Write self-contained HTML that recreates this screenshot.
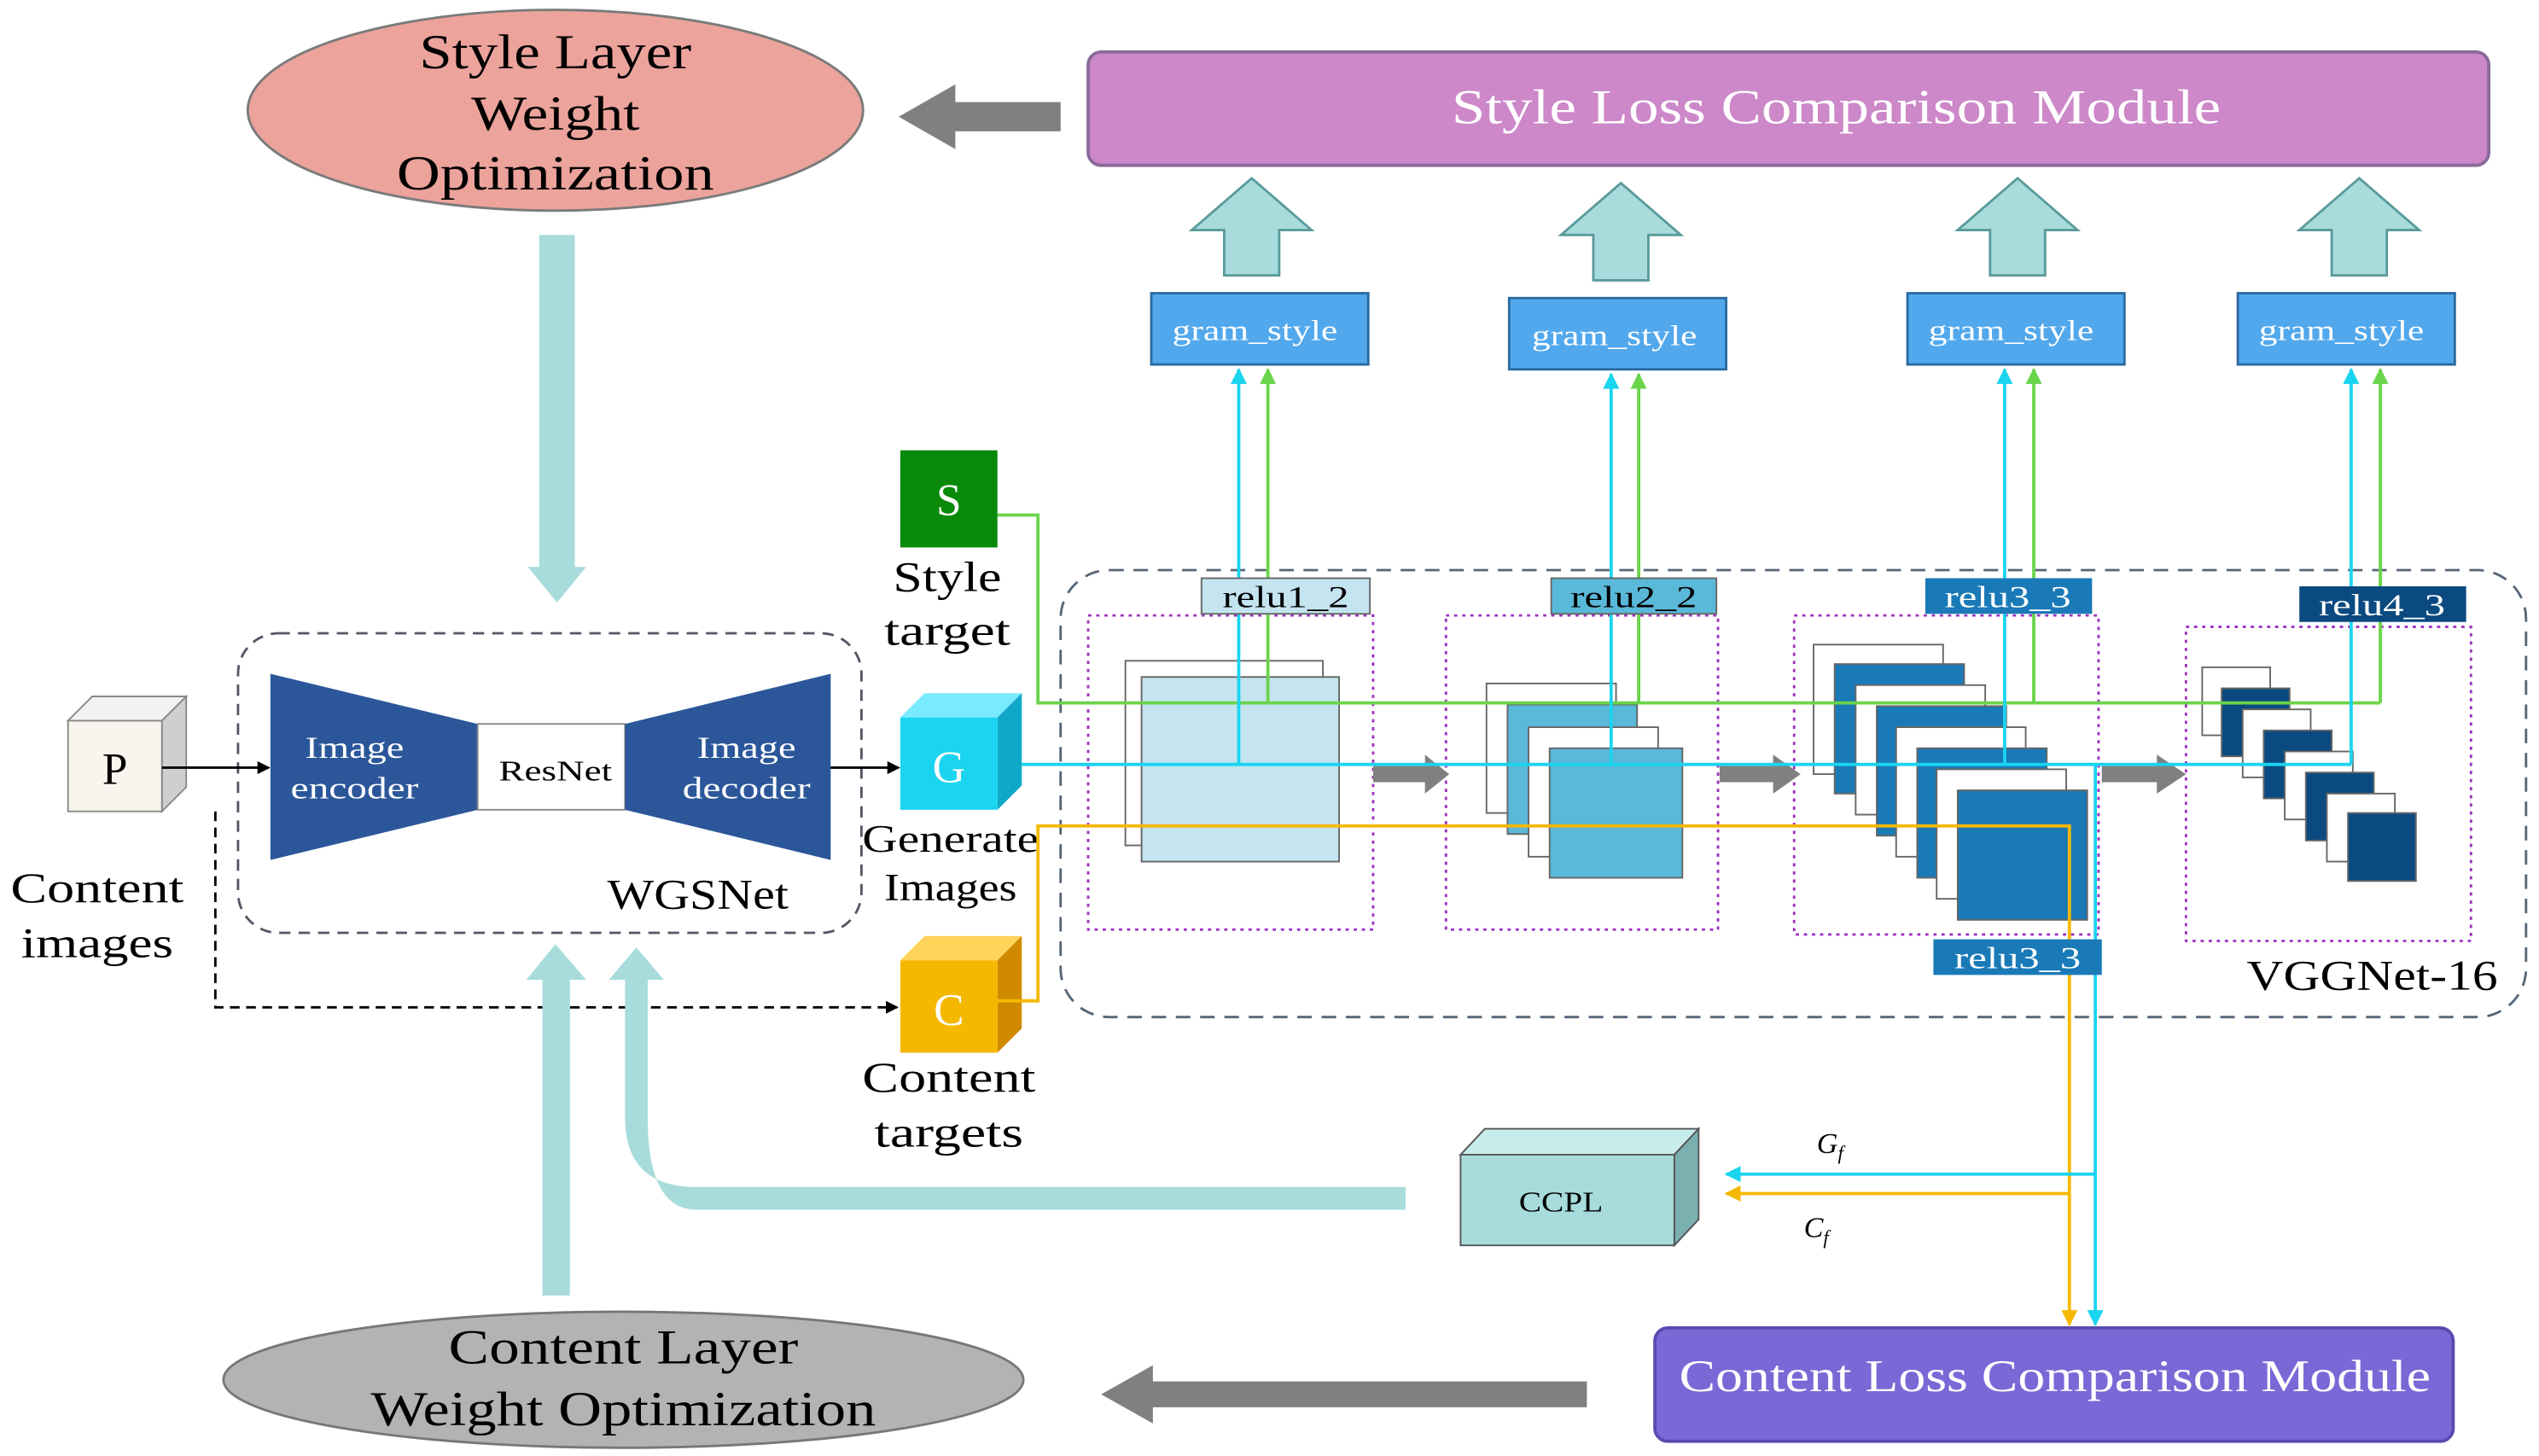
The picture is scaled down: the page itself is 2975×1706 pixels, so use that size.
<!DOCTYPE html>
<html><head><meta charset="utf-8"><style>
html,body{margin:0;padding:0;background:#fff}
svg{display:block}
text{font-family:"Liberation Serif",serif}
</style></head><body>
<svg width="2975" height="1706" viewBox="0 0 1568 899" xmlns="http://www.w3.org/2000/svg">
<defs>
<marker id="ab" markerWidth="8" markerHeight="8" refX="7" refY="4" orient="auto" markerUnits="userSpaceOnUse"><path d="M0,0 L8,4 L0,8 z" fill="#000"/></marker>
<marker id="ac" markerWidth="10" markerHeight="10" refX="9" refY="5" orient="auto" markerUnits="userSpaceOnUse"><path d="M0,0 L10,5 L0,10 z" fill="#1ad4f0"/></marker>
<marker id="ag" markerWidth="10" markerHeight="10" refX="9" refY="5" orient="auto" markerUnits="userSpaceOnUse"><path d="M0,0 L10,5 L0,10 z" fill="#6ad44a"/></marker>
<marker id="ay" markerWidth="10" markerHeight="10" refX="9" refY="5" orient="auto" markerUnits="userSpaceOnUse"><path d="M0,0 L10,5 L0,10 z" fill="#f5b800"/></marker>
</defs>

<ellipse cx="343" cy="68" rx="190" ry="62" fill="#eba39c" stroke="#7a7a7a" stroke-width="1.5"/>
<text x="343" y="42" font-size="30" text-anchor="middle" textLength="168" lengthAdjust="spacingAndGlyphs">Style Layer</text>
<text x="343" y="80" font-size="30" text-anchor="middle" textLength="104" lengthAdjust="spacingAndGlyphs">Weight</text>
<text x="343" y="117" font-size="30" text-anchor="middle" textLength="196" lengthAdjust="spacingAndGlyphs">Optimization</text>

<polygon points="655,63 590,63 590,52 555,72 590,92 590,81 655,81" fill="#808080"/>

<rect x="672" y="32" width="865" height="70" rx="8" fill="#cc88c8" stroke="#8a6a9a" stroke-width="2"/>
<text x="1134" y="76" font-size="30" fill="#fff" text-anchor="middle" textLength="475" lengthAdjust="spacingAndGlyphs">Style Loss Comparison Module</text>

<g fill="#a8dcdc" stroke="#5a9a9a" stroke-width="1.5">
<polygon points="773,110 810,142 790,142 790,170 756,170 756,142 736,142"/>
<polygon points="1001,113 1038,145 1018,145 1018,173 984,173 984,145 964,145"/>
<polygon points="1246,110 1283,142 1263,142 1263,170 1229,170 1229,142 1209,142"/>
<polygon points="1457,110 1494,142 1474,142 1474,170 1440,170 1440,142 1420,142"/>
</g>

<g fill="#52a8ec" stroke="#2a6aa0" stroke-width="1.5">
<rect x="711" y="181" width="134" height="44"/>
<rect x="932" y="184" width="134" height="44"/>
<rect x="1178" y="181" width="134" height="44"/>
<rect x="1382" y="181" width="134" height="44"/>
</g>
<g font-size="18" fill="#fff" text-anchor="middle">
<text x="775" y="210" textLength="102" lengthAdjust="spacingAndGlyphs">gram_style</text>
<text x="997" y="213" textLength="102" lengthAdjust="spacingAndGlyphs">gram_style</text>
<text x="1242" y="210" textLength="102" lengthAdjust="spacingAndGlyphs">gram_style</text>
<text x="1446" y="210" textLength="102" lengthAdjust="spacingAndGlyphs">gram_style</text>
</g>

<polygon points="333,145 355,145 355,350 362,350 344,372 326,350 333,350" fill="#a8dcdc"/>

<rect x="147" y="391" width="385" height="185" rx="25" fill="none" stroke="#556" stroke-width="1.5" stroke-dasharray="7,5"/>
<polygon points="167,416 295,447 295,500 167,531" fill="#2b579a"/>
<rect x="295" y="447" width="91" height="53" fill="#fff" stroke="#888"/>
<polygon points="386,447 513,416 513,531 386,500" fill="#2b579a"/>
<g font-size="19" fill="#fff" text-anchor="middle">
<text x="219" y="468" textLength="61" lengthAdjust="spacingAndGlyphs">Image</text><text x="219" y="493" textLength="79" lengthAdjust="spacingAndGlyphs">encoder</text>
<text x="461" y="468" textLength="61" lengthAdjust="spacingAndGlyphs">Image</text><text x="461" y="493" textLength="79" lengthAdjust="spacingAndGlyphs">decoder</text>
</g>
<text x="343" y="482" font-size="18" text-anchor="middle" textLength="70" lengthAdjust="spacingAndGlyphs">ResNet</text>
<text x="431" y="561" font-size="26" text-anchor="middle" textLength="112" lengthAdjust="spacingAndGlyphs">WGSNet</text>

<polygon points="42,445 57,430 115,430 100,445" fill="#f2f2f2" stroke="#888"/>
<polygon points="100,445 115,430 115,486 100,501" fill="#cfcfcf" stroke="#888"/>
<rect x="42" y="445" width="58" height="56" fill="#faf4ee" stroke="#888"/>
<text x="71" y="484" font-size="28" text-anchor="middle">P</text>
<text x="60" y="557" font-size="26" text-anchor="middle" textLength="107" lengthAdjust="spacingAndGlyphs">Content</text>
<text x="60" y="591" font-size="26" text-anchor="middle" textLength="94" lengthAdjust="spacingAndGlyphs">images</text>
<line x1="100" y1="474" x2="166" y2="474" stroke="#000" stroke-width="1.5" marker-end="url(#ab)"/>
<line x1="513" y1="474" x2="555" y2="474" stroke="#000" stroke-width="1.5" marker-end="url(#ab)"/>
<polyline points="133,501 133,622 554,622" fill="none" stroke="#000" stroke-width="1.5" stroke-dasharray="6,4" marker-end="url(#ab)"/>

<rect x="556" y="278" width="60" height="60" fill="#0a8a0a"/>
<text x="586" y="318" font-size="28" fill="#fff" text-anchor="middle">S</text>
<text x="585" y="365" font-size="26" text-anchor="middle" textLength="67" lengthAdjust="spacingAndGlyphs">Style</text>
<text x="585" y="398" font-size="26" text-anchor="middle" textLength="78" lengthAdjust="spacingAndGlyphs">target</text>

<polygon points="556,443 571,428 631,428 616,443" fill="#7aeaff"/>
<polygon points="616,443 631,428 631,485 616,500" fill="#10a8c8"/>
<rect x="556" y="443" width="60" height="57" fill="#1ad4f0"/>
<text x="586" y="483" font-size="28" fill="#fff" text-anchor="middle">G</text>
<text x="587" y="526" font-size="24" text-anchor="middle" textLength="109" lengthAdjust="spacingAndGlyphs">Generate</text>
<text x="587" y="556" font-size="24" text-anchor="middle" textLength="82" lengthAdjust="spacingAndGlyphs">Images</text>

<polygon points="556,593 571,578 631,578 616,593" fill="#ffd45a"/>
<polygon points="616,593 631,578 631,635 616,650" fill="#d08a00"/>
<rect x="556" y="593" width="60" height="57" fill="#f5b800"/>
<text x="586" y="633" font-size="28" fill="#fff" text-anchor="middle">C</text>
<text x="586" y="674" font-size="26" text-anchor="middle" textLength="107" lengthAdjust="spacingAndGlyphs">Content</text>
<text x="586" y="708" font-size="26" text-anchor="middle" textLength="92" lengthAdjust="spacingAndGlyphs">targets</text>

<rect x="655" y="352" width="905" height="276" rx="30" fill="none" stroke="#567" stroke-width="1.5" stroke-dasharray="9,6"/>
<text x="1465" y="611" font-size="26" text-anchor="middle" textLength="155" lengthAdjust="spacingAndGlyphs">VGGNet-16</text>
<g fill="none" stroke="#a030c0" stroke-width="1.5" stroke-dasharray="2,3">
<rect x="672" y="380" width="176" height="194"/>
<rect x="893" y="380" width="168" height="194"/>
<rect x="1108" y="380" width="188" height="197"/>
<rect x="1350" y="387" width="176" height="194"/>
</g>

<rect x="695" y="408" width="122" height="114" fill="#fff" stroke="#666"/>
<rect x="705" y="418" width="122" height="114" fill="#c4e4f0" stroke="#666"/>
<g stroke="#666">
<rect x="918" y="422" width="80" height="80" fill="#fff"/>
<rect x="931" y="435" width="80" height="80" fill="#5ab8d8"/>
<rect x="944" y="449" width="80" height="80" fill="#fff"/>
<rect x="957" y="462" width="82" height="80" fill="#5ab8d8"/>
</g>
<g stroke="#666">
<rect x="1120" y="398" width="80" height="80" fill="#fff"/>
<rect x="1133" y="410" width="80" height="80" fill="#1a7ab8"/>
<rect x="1146" y="423" width="80" height="80" fill="#fff"/>
<rect x="1159" y="436" width="80" height="80" fill="#1a7ab8"/>
<rect x="1171" y="449" width="80" height="80" fill="#fff"/>
<rect x="1184" y="462" width="80" height="80" fill="#1a7ab8"/>
<rect x="1196" y="475" width="80" height="80" fill="#fff"/>
<rect x="1209" y="488" width="80" height="80" fill="#1a7ab8"/>
</g>
<g stroke="#666">
<rect x="1360" y="412" width="42" height="42" fill="#fff"/>
<rect x="1372" y="425" width="42" height="42" fill="#0a4a80"/>
<rect x="1385" y="438" width="42" height="42" fill="#fff"/>
<rect x="1398" y="451" width="42" height="42" fill="#0a4a80"/>
<rect x="1411" y="464" width="42" height="42" fill="#fff"/>
<rect x="1424" y="477" width="42" height="42" fill="#0a4a80"/>
<rect x="1437" y="490" width="42" height="42" fill="#fff"/>
<rect x="1450" y="502" width="42" height="42" fill="#0a4a80"/>
</g>

<g fill="#808080">
<polygon points="848,473 880,473 880,466 895,478 880,490 880,483 848,483"/>
<polygon points="1062,473 1095,473 1095,466 1112,478 1095,490 1095,483 1062,483"/>
<polygon points="1298,473 1332,473 1332,466 1350,478 1332,490 1332,483 1298,483"/>
</g>

<g fill="none" stroke-width="2">
<polyline points="616,318 641,318 641,434 1470,434" stroke="#6ad44a"/>
<polyline points="631,472 1452,472" stroke="#1ad4f0"/>
<polyline points="616,618 641,618 641,510 1278,510 1278,818" stroke="#f5b800" marker-end="url(#ay)"/>
<line x1="1294" y1="472" x2="1294" y2="818" stroke="#1ad4f0" marker-end="url(#ac)"/>
<line x1="765" y1="472" x2="765" y2="228" stroke="#1ad4f0" marker-end="url(#ac)"/>
<line x1="783" y1="434" x2="783" y2="228" stroke="#6ad44a" marker-end="url(#ag)"/>
<line x1="995" y1="472" x2="995" y2="231" stroke="#1ad4f0" marker-end="url(#ac)"/>
<line x1="1012" y1="434" x2="1012" y2="231" stroke="#6ad44a" marker-end="url(#ag)"/>
<line x1="1238" y1="472" x2="1238" y2="228" stroke="#1ad4f0" marker-end="url(#ac)"/>
<line x1="1256" y1="434" x2="1256" y2="228" stroke="#6ad44a" marker-end="url(#ag)"/>
<line x1="1452" y1="472" x2="1452" y2="228" stroke="#1ad4f0" marker-end="url(#ac)"/>
<line x1="1470" y1="434" x2="1470" y2="228" stroke="#6ad44a" marker-end="url(#ag)"/>
<line x1="1294" y1="725" x2="1066" y2="725" stroke="#1ad4f0" marker-end="url(#ac)"/>
<line x1="1278" y1="737" x2="1066" y2="737" stroke="#f5b800" marker-end="url(#ay)"/>
</g>

<rect x="742" y="357" width="104" height="22" fill="#c4e4f0" stroke="#666"/>
<text x="794" y="375" font-size="19" text-anchor="middle" textLength="78" lengthAdjust="spacingAndGlyphs">relu1_2</text>
<rect x="958" y="357" width="102" height="22" fill="#5ab8d8" stroke="#666"/>
<text x="1009" y="375" font-size="19" text-anchor="middle" textLength="78" lengthAdjust="spacingAndGlyphs">relu2_2</text>
<rect x="1189" y="357" width="103" height="22" fill="#1a7ab8"/>
<text x="1240" y="375" font-size="19" fill="#fff" text-anchor="middle" textLength="78" lengthAdjust="spacingAndGlyphs">relu3_3</text>
<rect x="1420" y="362" width="103" height="22" fill="#0a4a80"/>
<text x="1471" y="380" font-size="19" fill="#fff" text-anchor="middle" textLength="78" lengthAdjust="spacingAndGlyphs">relu4_3</text>
<rect x="1194" y="580" width="104" height="22" fill="#1a7ab8"/>
<text x="1246" y="598" font-size="19" fill="#fff" text-anchor="middle" textLength="78" lengthAdjust="spacingAndGlyphs">relu3_3</text>

<text x="1122" y="712" font-size="18" font-style="italic">G<tspan font-size="12" dy="4">f</tspan></text>
<text x="1114" y="764" font-size="18" font-style="italic">C<tspan font-size="12" dy="4">f</tspan></text>

<polygon points="902,713 917,697 1049,697 1034,713" fill="#c8ecec" stroke="#555"/>
<polygon points="1034,713 1049,697 1049,753 1034,769" fill="#7ab0b0" stroke="#555"/>
<rect x="902" y="713" width="132" height="56" fill="#a8dcdc" stroke="#555"/>
<text x="964" y="748" font-size="18" text-anchor="middle" textLength="52" lengthAdjust="spacingAndGlyphs">CCPL</text>

<path d="M868,733 L430,733 Q386,733 386,690 L386,605 L376,605 L393,585 L410,605 L400,605 L400,690 Q400,747 430,747 L868,747 Z" fill="#a8dcdc"/>
<polygon points="335,800 352,800 352,605 362,605 343,583 325,605 335,605" fill="#a8dcdc"/>

<ellipse cx="385" cy="852" rx="247" ry="42" fill="#b3b3b3" stroke="#777" stroke-width="1.5"/>
<text x="385" y="842" font-size="30" text-anchor="middle" textLength="216" lengthAdjust="spacingAndGlyphs">Content Layer</text>
<text x="385" y="880" font-size="30" text-anchor="middle" textLength="312" lengthAdjust="spacingAndGlyphs">Weight Optimization</text>

<polygon points="980,853 712,853 712,843 680,861 712,879 712,869 980,869" fill="#808080"/>

<rect x="1022" y="820" width="493" height="70" rx="8" fill="#7b68d6" stroke="#5a4ab0" stroke-width="2"/>
<text x="1269" y="859" font-size="28" fill="#fff" text-anchor="middle" textLength="464" lengthAdjust="spacingAndGlyphs">Content Loss Comparison Module</text>
</svg>
</body></html>
